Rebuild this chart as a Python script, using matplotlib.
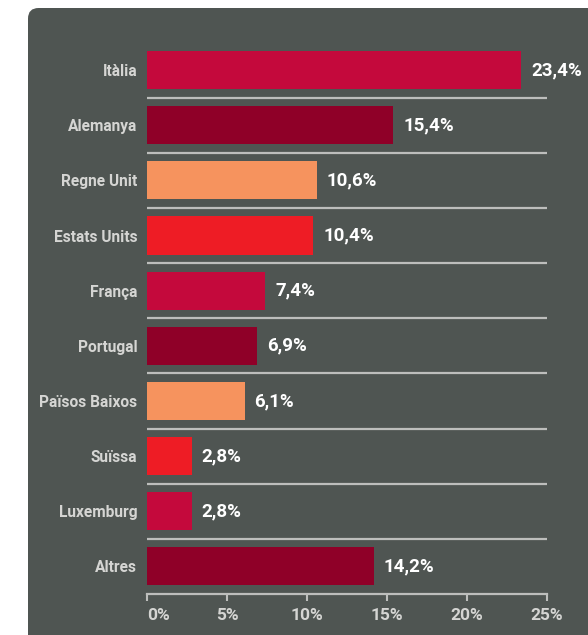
import matplotlib
matplotlib.use("Agg")
import matplotlib.pyplot as plt
from matplotlib.patches import FancyBboxPatch

categories = ["Itàlia", "Alemanya", "Regne Unit", "Estats Units", "França",
              "Portugal", "Països Baixos", "Suïssa", "Luxemburg", "Altres"]
values = [23.4, 15.4, 10.6, 10.4, 7.4, 6.9, 6.1, 2.8, 2.8, 14.2]
value_labels = ["23,4%", "15,4%", "10,6%", "10,4%", "7,4%", "6,9%", "6,1%", "2,8%", "2,8%", "14,2%"]
tick_values = [0, 5, 10, 15, 20, 25]
tick_labels = ["0%", "5%", "10%", "15%", "20%", "25%"]

palette = ["#C4093C", "#8F0028", "#F6935E", "#EE1C25"]
colors = [palette[i % 4] for i in range(len(categories))]

panel = "#4F5552"
light = "#D5D5D3"
linec = "#BDBEBC"
FONT = ["Roboto", "DejaVu Sans"]

fig = plt.figure(figsize=(5.88, 6.35), dpi=100)
fig.patch.set_facecolor("white")

W, H = 588, 635
px, py = 28, 8
bg = FancyBboxPatch((px / W, -0.05), 1.2, 1 - py / H + 0.05,
                    boxstyle="round,pad=0,rounding_size=0.018",
                    transform=fig.transFigure, facecolor=panel, edgecolor="none",
                    mutation_aspect=W / H, zorder=-10)
fig.patches.append(bg)

ax = fig.add_axes([147 / W, 1 - 594 / H, 400 / W, (594 - 42.5) / H])
ax.set_facecolor("none")
ax.set_zorder(5)
n = len(categories)
ypos = list(range(n))
ax.barh(ypos, values, height=0.69, color=colors, zorder=2)
ax.set_xlim(0, 25)
ax.set_ylim(n - 0.5, -0.5)

for i in range(n - 1):
    ax.axhline(i + 0.5, color=linec, lw=1.6, zorder=1)

for y, v, lab in zip(ypos, values, value_labels):
    ax.annotate(lab, (v, y), xytext=(7, 0), textcoords="offset points",
                va="center", ha="left", color="white", fontsize=13.5,
                fontweight="bold", family=FONT)

ax.set_yticks(ypos)
ax.set_yticklabels(categories, family=FONT, fontsize=11.2, fontweight="bold", color=light)
ax.tick_params(axis="y", length=0, pad=7)
ax.set_xticks(tick_values)
ax.set_xticklabels(tick_labels, family=FONT, fontsize=12.5, fontweight="bold", color=light)
ax.get_xticklabels()[0].set_horizontalalignment("left")
ax.tick_params(axis="x", length=5, width=1.5, color=linec, pad=5, direction="out")

for s in ["top", "left", "right"]:
    ax.spines[s].set_visible(False)
ax.spines["bottom"].set_color(linec)
ax.spines["bottom"].set_linewidth(1.6)

fig.savefig("out.png", dpi=100, facecolor=fig.get_facecolor())
